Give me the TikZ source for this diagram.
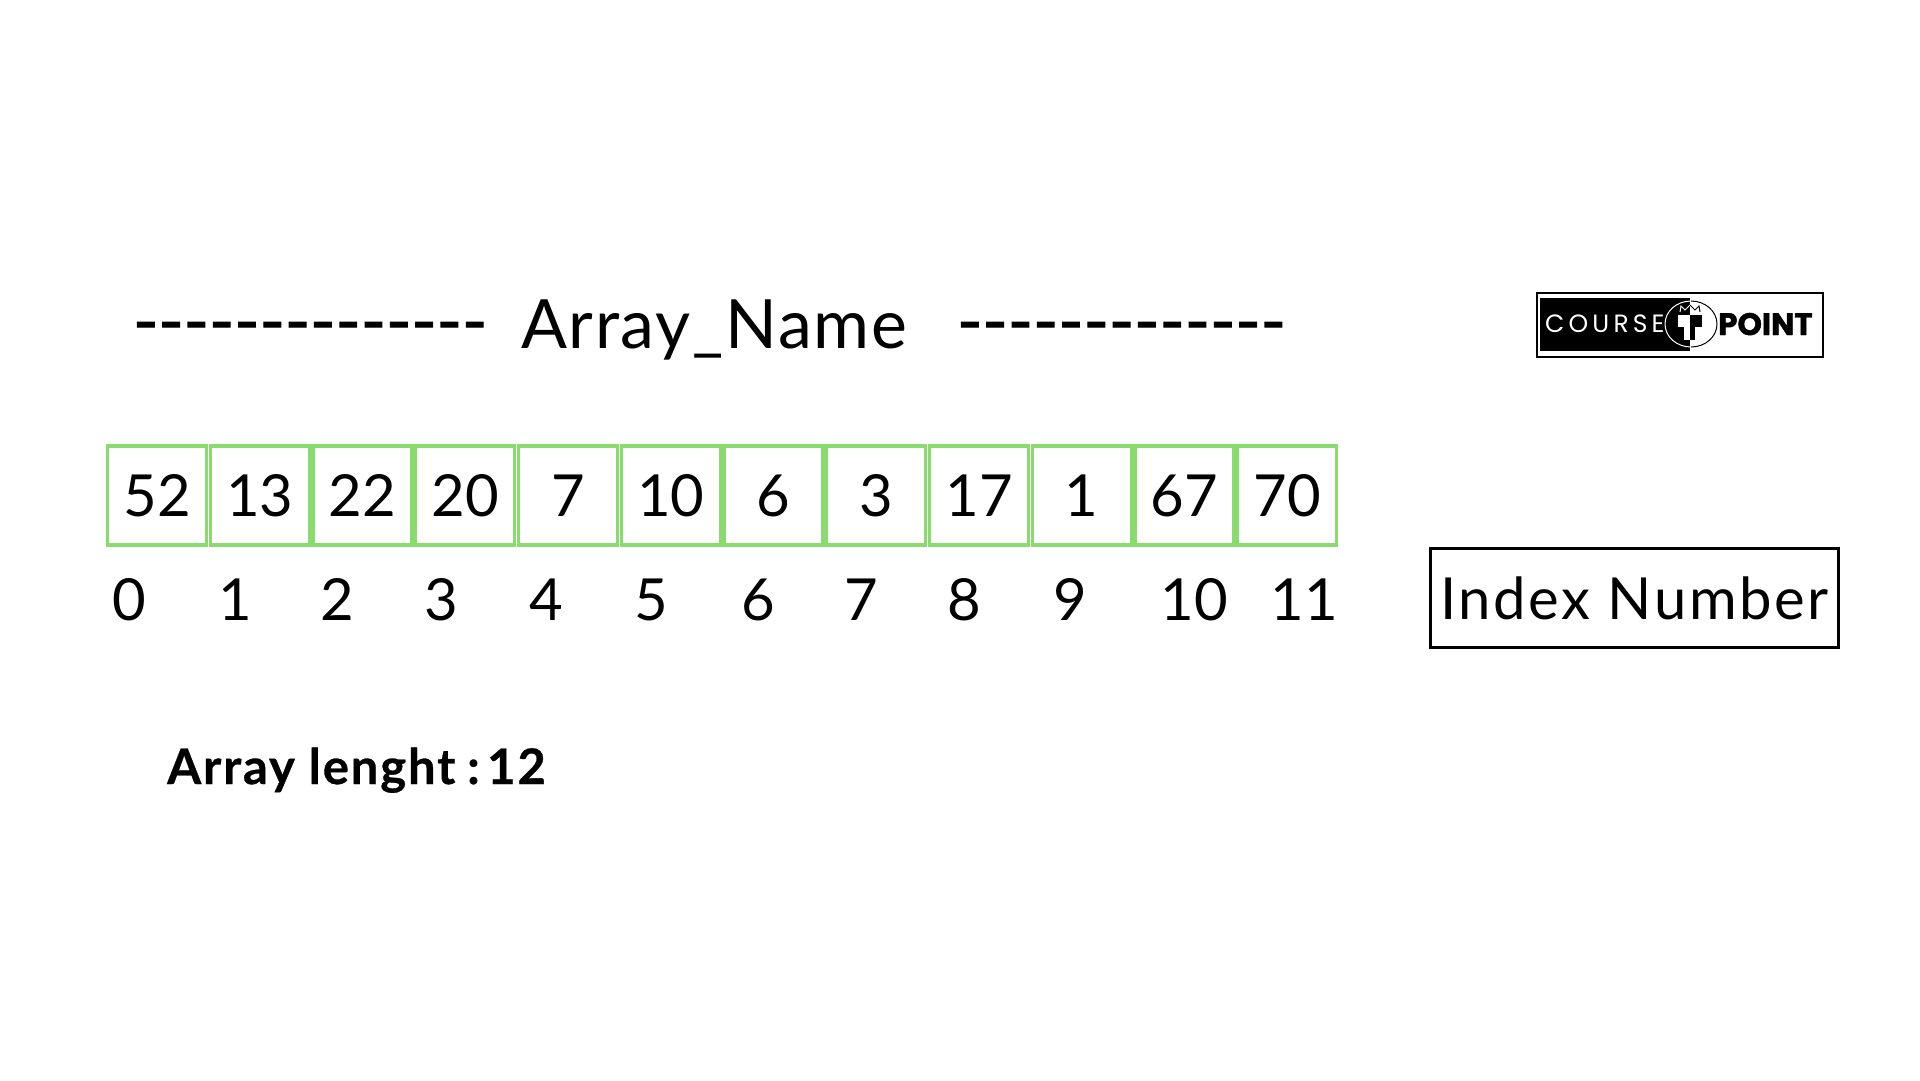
\documentclass[tikz,border=0pt]{standalone}
\usepackage{fontspec}
\setmainfont{Lato}
\newfontfamily\logofam{Poppins}
\definecolor{cellgreen}{HTML}{8ADB6E}
\tikzset{
  cell/.style={draw=cellgreen,line width=3.2pt,minimum width=99pt,minimum height=99pt,inner sep=0pt,font=\fontsize{58}{58}\selectfont},
  idx/.style={anchor=base,inner sep=0pt,font=\fontsize{58}{58}\selectfont},
  title/.style={anchor=base,inner sep=0pt,font=\fontsize{68}{68}\selectfont},
  dashes/.style={anchor=base west,inner sep=0pt,font=\fontsize{68}{68}\selectfont\addfontfeature{FakeBold=1.6}},
}
\begin{document}
\begin{tikzpicture}[x=1pt,y=-1pt]
\useasboundingbox (0,0) rectangle (1920,1080);
\fill[white] (0,0) rectangle (1920,1080);
\node[dashes] (dashL) at (133,345) {-{}-{}-{}-{}-{}-{}-{}-{}-{}-{}-{}-{}-{}-};
\node[title] (name) at (714,348) {\addfontfeature{LetterSpace=2.5}Array\_Name};
\node[dashes] (dashR) at (957,345) {-{}-{}-{}-{}-{}-{}-{}-{}-{}-{}-{}-{}-};
\foreach \v [count=\i from 0] in {52,13,22,20,7,10,6,3,17,1,67,70}{
  \node[cell] (c\i) at ({157+102.75*\i},495.5) {\v};
}
\foreach \x [count=\i from 0] in {129,235,337,441,546,651,758,861,964,1070,1194,1304}{
  \node[idx] (n\i) at (\x,620) {\i};
}
\node[draw=black,line width=2.8pt,minimum width=408pt,minimum height=99pt,inner sep=0pt,font=\fontsize{58}{58}\selectfont] (index) at (1634.5,598) {\addfontfeature{LetterSpace=4.5}Index Number};
\node[anchor=base west,inner sep=0pt,font=\bfseries\fontsize{49}{49}\selectfont] (len) at (167,784) {\addfontfeature{LetterSpace=3.8,FakeBold=0.6}Array lenght\hspace{-2pt} :\hspace{-11pt} 12};
% logo
\draw[black,line width=2pt] (1537,293) rectangle (1823,357);
\fill[black] (1540,298) rectangle (1690,351);
\draw[white,line width=1pt] (1691,301) arc[start angle=-90,end angle=-270,x radius=26,y radius=23];
\draw[black,line width=1pt] (1691,301) arc[start angle=-90,end angle=90,x radius=26,y radius=23];
\node[inner sep=0pt,text=white,anchor=base west,font=\logofam\fontsize{25}{25}\selectfont] (course) at (1545,332) {C\,O\,U\,R\,S\,E};
\node[inner sep=0pt,text=black,anchor=base west,font=\logofam\bfseries\fontsize{31}{31}\selectfont] (point) at (1718,335) {\addfontfeature{FakeBold=1.5}POINT};
\fill[white] (1678,315) rectangle (1690,327);
\fill[white] (1684,327) rectangle (1690,340);
\fill[black] (1690,315) rectangle (1702,327);
\fill[black] (1690,327) rectangle (1695,340);
\draw[white,line width=1pt] (1680,312) -- (1681,306) -- (1685,310) -- (1690,305);
\draw[black,line width=1pt] (1690,305) -- (1695,310) -- (1699,306) -- (1700,312);
\end{tikzpicture}
\end{document}
